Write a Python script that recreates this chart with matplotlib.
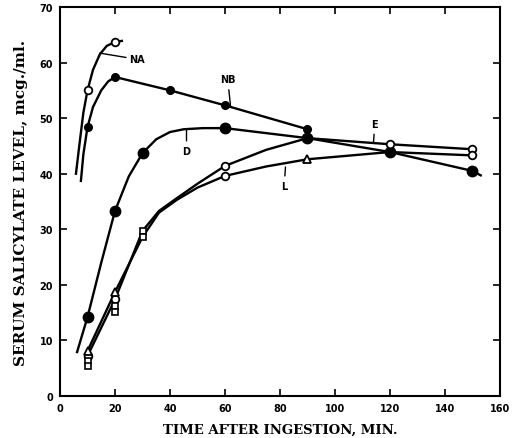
import numpy as np
import matplotlib
matplotlib.use("Agg")
import matplotlib.pyplot as plt

# curve traces (min, mcg/ml)
na_cx = [5.8, 7, 8.5, 10, 12, 14.5, 17, 20, 22.5]
na_cy = [40, 45, 51, 55, 58.7, 61.5, 63, 63.7, 63.9]
na_x = [10, 20]
na_y = [55, 63.7]

nb_cx = [7.6, 8.5, 10, 12, 15, 17.5, 20, 40, 60, 90]
nb_cy = [38.7, 43.5, 48.4, 52, 55, 56.6, 57.4, 55, 52.3, 48]
nb_x = [10, 20, 40, 60, 90]
nb_y = [48.4, 57.4, 55, 52.3, 48]

d_cx = [6.2, 10, 15, 20, 25, 30, 35, 40, 45, 52, 60, 90, 120, 150, 153]
d_cy = [7.9, 14.2, 24, 33.3, 39.5, 43.7, 46.2, 47.5, 48, 48.2, 48.2, 46.4, 43.9, 40.5, 39.7]
d_x = [10, 20, 30, 60, 90, 120, 150]
d_y = [14.2, 33.3, 43.7, 48.2, 46.4, 43.9, 40.5]

e_cx = [10, 20, 30, 36, 42.5, 50, 60, 75, 90, 120, 150]
e_cy = [7.2, 17.4, 29.7, 33.3, 35.6, 38.2, 41.4, 44.3, 46.4, 45.3, 44.4]
e_x = [10, 20, 60, 120, 150]
e_y = [7.2, 17.4, 41.4, 45.3, 44.4]

l_cx = [10, 20, 30, 36, 42.5, 50, 60, 75, 90, 120, 150]
l_cy = [8.1, 18.7, 28.6, 33.0, 35.3, 37.5, 39.6, 41.3, 42.6, 43.9, 43.3]
l_tri_x = [10, 20, 90]
l_tri_y = [8.1, 18.7, 42.6]
l_circ_x = [60, 150]
l_circ_y = [39.6, 43.3]

# extra open squares stacked at early times
sq_x = [10, 10, 20, 20, 30, 30]
sq_y = [6.3, 5.4, 16.2, 15.1, 29.7, 28.6]

fig = plt.figure(figsize=(5.2, 4.39), dpi=100)
ax = fig.add_axes([0.1154, 0.0957, 0.8461, 0.8861])

lw = 1.7
ax.plot(na_cx, na_cy, color='k', lw=lw)
ax.plot(nb_cx, nb_cy, color='k', lw=lw)
ax.plot(d_cx, d_cy, color='k', lw=lw)
ax.plot(e_cx, e_cy, color='k', lw=lw)
ax.plot(l_cx, l_cy, color='k', lw=lw)

ax.plot(na_x, na_y, 'o', ms=5.5, mfc='white', mec='k', mew=1.3)
ax.plot(d_x, d_y, 'o', ms=7.5, mfc='k', mec='k')
ax.plot(nb_x, nb_y, 'o', ms=5.5, mfc='k', mec='k')
ax.plot(e_x, e_y, 'o', ms=5.5, mfc='white', mec='k', mew=1.3)
ax.plot(l_tri_x, l_tri_y, '^', ms=5.5, mfc='white', mec='k', mew=1.3)
ax.plot(l_circ_x, l_circ_y, 'o', ms=5.5, mfc='white', mec='k', mew=1.3)
ax.plot(sq_x, sq_y, 's', ms=4.5, mfc='white', mec='k', mew=1.2)

# curve labels with leader lines
lab = dict(fontsize=7, fontweight='bold', family='DejaVu Sans')
ax.annotate('NA', xy=(14.5, 61.7), xytext=(25, 60.6), va='center', ha='left',
            arrowprops=dict(arrowstyle='-', lw=1, color='k', shrinkA=0, shrinkB=0), **lab)
ax.annotate('NB', xy=(62, 52.2), xytext=(61, 57), va='center', ha='center',
            arrowprops=dict(arrowstyle='-', lw=1, color='k', shrinkA=2, shrinkB=0), **lab)
ax.annotate('D', xy=(46, 48), xytext=(46, 44), va='center', ha='center',
            arrowprops=dict(arrowstyle='-', lw=1, color='k', shrinkA=2, shrinkB=0), **lab)
ax.annotate('E', xy=(114, 45.6), xytext=(114.5, 49), va='center', ha='center',
            arrowprops=dict(arrowstyle='-', lw=1, color='k', shrinkA=2, shrinkB=0), **lab)
ax.annotate('L', xy=(82, 41.2), xytext=(81.5, 37.7), va='center', ha='center',
            arrowprops=dict(arrowstyle='-', lw=1, color='k', shrinkA=2, shrinkB=0), **lab)

ax.set_xlim(0, 160)
ax.set_ylim(0, 70)
ax.set_xticks(np.arange(0, 161, 20))
ax.set_yticks(np.arange(0, 71, 10))
ax.tick_params(direction='in', top=True, right=True, length=5, width=1.2,
               labelsize=7, pad=5)
for t in ax.get_xticklabels() + ax.get_yticklabels():
    t.set_fontweight('bold')
for s in ax.spines.values():
    s.set_linewidth(1.5)

ax.set_xlabel('TIME AFTER INGESTION, MIN.', family='DejaVu Serif',
              fontweight='bold', fontsize=9.5, labelpad=7)
ax.set_ylabel('SERUM SALICYLATE LEVEL, mcg./ml.', family='DejaVu Serif',
              fontweight='bold', fontsize=11, labelpad=8)

fig.savefig('out.png', dpi=100)
